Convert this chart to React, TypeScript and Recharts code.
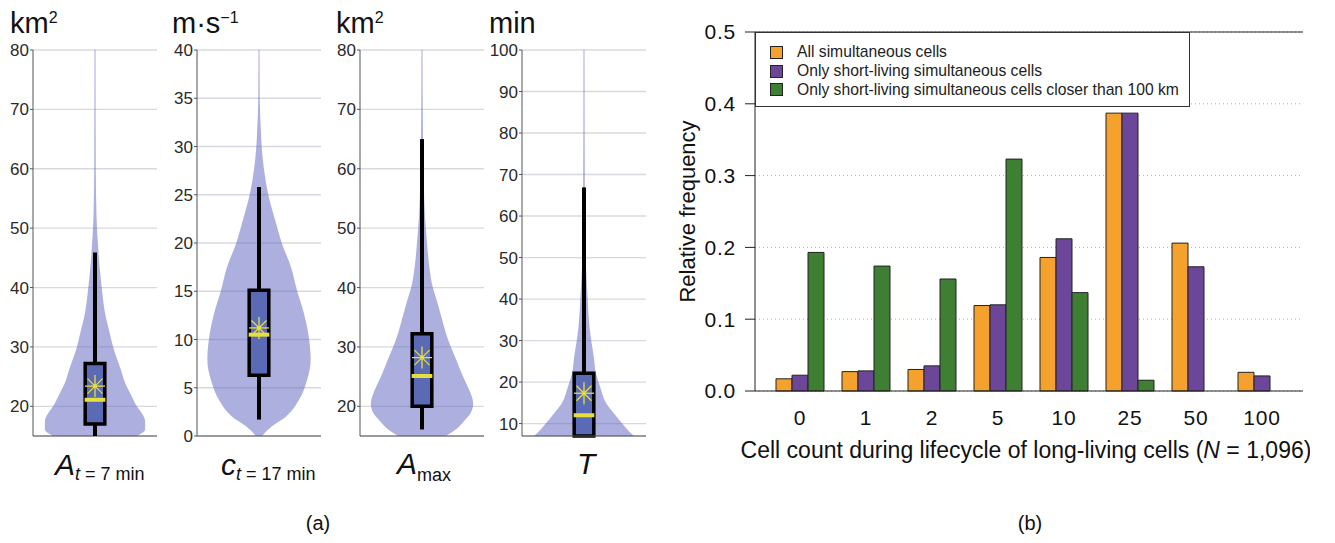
import React from 'react';
import {
  ComposedChart,
  Area,
  XAxis,
  YAxis,
  CartesianGrid,
  ReferenceLine,
  ReferenceArea,
  ReferenceDot,
  BarChart,
  Bar,
  Legend,
} from 'recharts';

// ---------- Panel (a): violin + box plots ----------
const violinAtValues = [15, 15.5, 16.1, 17.5, 18.9, 20, 21.7, 24, 26.2, 30, 32.9, 35, 40, 44.1, 48, 52, 60, 80];
const violinAtDensity = [0.81, 0.91, 0.97, 0.97, 0.9, 0.81, 0.71, 0.58, 0.5, 0.35, 0.27, 0.21, 0.13, 0.083, 0.052, 0.029, 0.015, 0.01];

const violinCtValues = [0, 1, 2, 3.7, 5.8, 7.9, 10, 12.7, 15, 17.5, 20, 22.4, 25, 27.6, 30, 32, 35, 40];
const violinCtDensity = [0.06, 0.25, 0.52, 0.77, 0.93, 1.0, 0.97, 0.87, 0.74, 0.62, 0.44, 0.31, 0.18, 0.097, 0.052, 0.033, 0.014, 0.01];

const violinAmaxValues = [15, 16, 17.5, 19, 20.5, 22, 23.4, 25.1, 27.9, 30, 32.4, 35.2, 38, 40, 43.6, 47.5, 52, 58, 65, 80];
const violinAmaxDensity = [0.46, 0.64, 0.81, 0.95, 0.99, 0.95, 0.88, 0.79, 0.66, 0.56, 0.46, 0.37, 0.28, 0.21, 0.14, 0.097, 0.058, 0.033, 0.019, 0.01];

const violinTValues = [7, 8.4, 10, 12.9, 14.9, 18.9, 22.1, 26.1, 30, 34.1, 40, 45, 50, 60, 100];
const violinTDensity = [0.97, 0.85, 0.74, 0.55, 0.43, 0.31, 0.23, 0.19, 0.14, 0.1, 0.072, 0.048, 0.031, 0.019, 0.01];

const axisMin = [15, 0, 15, 7];
const axisMax = [80, 40, 80, 100];
const axisTicks = [
  [20, 30, 40, 50, 60, 70, 80],
  [0, 5, 10, 15, 20, 25, 30, 35, 40],
  [20, 30, 40, 50, 60, 70, 80],
  [10, 20, 30, 40, 50, 60, 70, 80, 90, 100],
];
const whiskerLow = [15, 1.7, 16.1, 7];
const boxQ1 = [17, 6.3, 20, 7];
const boxMedian = [21.1, 10.5, 25.1, 12];
const boxMean = [23.4, 11.2, 28.2, 17.3];
const boxQ3 = [27.2, 15.1, 32.2, 22.1];
const whiskerHigh = [45.9, 25.8, 65, 66.9];

const violinValues = [violinAtValues, violinCtValues, violinAmaxValues, violinTValues];
const violinDensity = [violinAtDensity, violinCtDensity, violinAmaxDensity, violinTDensity];

// ---------- Panel (b): grouped bars ----------
const categories = ['0', '1', '2', '5', '10', '25', '50', '100'];
const allCells = [0.017, 0.027, 0.03, 0.119, 0.186, 0.387, 0.206, 0.026];
const shortLiving = [0.022, 0.028, 0.035, 0.12, 0.212, 0.387, 0.173, 0.021];
const shortClose = [0.193, 0.174, 0.156, 0.323, 0.137, 0.015, 0, 0];
const seriesNames = [
  'All simultaneous cells',
  'Only short-living simultaneous cells',
  'Only short-living simultaneous cells closer than 100 km',
];
const seriesKeys = ['all', 'short', 'close'];
const seriesColors = ['#F5A12D', '#6C4699', '#3F7F33'];
const yTicksB = [0, 0.1, 0.2, 0.3, 0.4, 0.5];

const barData = categories.map((c, i) => ({
  cat: c,
  all: allCells[i],
  short: shortLiving[i],
  close: shortClose[i],
}));

const FONT = '"Liberation Sans", Arial, Helvetica, sans-serif';
const NARROW = '"Liberation Sans Narrow", "Liberation Sans", Arial, sans-serif';

const AXIS_X = [33, 197, 360, 522];
const VIOLIN_FILL = '#5c62c0';
const BOX_FILL = '#5b6ab5';
const YELLOW = '#e6df3c';

const Star = (props: any) => {
  const { cx, cy } = props;
  if (cx == null || cy == null) return null;
  const rh = 10;
  const rv = 11;
  const rd = 7.5;
  return (
    <g stroke={YELLOW} strokeWidth={1.3}>
      <line x1={cx - rh} y1={cy} x2={cx + rh} y2={cy} />
      <line x1={cx} y1={cy - rv} x2={cx} y2={cy + rv} />
      <line x1={cx - rd} y1={cy - rd} x2={cx + rd} y2={cy + rd} />
      <line x1={cx - rd} y1={cy + rd} x2={cx + rd} y2={cy - rd} />
      <circle cx={cx} cy={cy} r={2} fill={YELLOW} stroke="none" />
    </g>
  );
};

function ViolinPanel({ idx }: { idx: number }) {
  const data = violinValues[idx].map((v, i) => ({
    v,
    r: [-violinDensity[idx][i], violinDensity[idx][i]],
  }));
  const lo = axisMin[idx];
  const hi = axisMax[idx];
  const bw = 0.19;
  return (
    <div style={{ position: 'absolute', left: AXIS_X[idx] - 40, top: 40 }}>
      <ComposedChart
        layout="vertical"
        width={166}
        height={412}
        data={data}
        margin={{ top: 10, right: 2, bottom: 16, left: 0 }}
      >
        <CartesianGrid horizontal vertical={false} stroke="#d8d8e0" strokeWidth={1.3} />
        <XAxis type="number" domain={[-1.2, 1.2]} hide allowDataOverflow />
        <YAxis
          type="number"
          dataKey="v"
          domain={[lo, hi]}
          ticks={axisTicks[idx]}
          interval={0}
          reversed
          allowDataOverflow
          width={40}
          tickSize={3}
          tickMargin={1}
          axisLine={{ stroke: '#555' }}
          tickLine={{ stroke: '#555' }}
          tick={{ fill: '#2a2a2a', fontSize: 17, fontFamily: NARROW }}
        />
        <ReferenceLine y={lo} stroke="#555" strokeWidth={1} />
        <Area
          dataKey="r"
          type="monotone"
          fill={VIOLIN_FILL}
          fillOpacity={0.5}
          stroke="none"
          dot={false}
          activeDot={false}
          isAnimationActive={false}
        />
        <ReferenceLine
          segment={[{ x: 0, y: whiskerLow[idx] }, { x: 0, y: boxQ1[idx] }]}
          stroke="#000"
          strokeWidth={4}
          ifOverflow="visible"
        />
        <ReferenceLine
          segment={[{ x: 0, y: boxQ3[idx] }, { x: 0, y: whiskerHigh[idx] }]}
          stroke="#000"
          strokeWidth={4}
          ifOverflow="visible"
        />
        <ReferenceArea
          x1={-bw}
          x2={bw}
          y1={boxQ1[idx]}
          y2={boxQ3[idx]}
          fill={BOX_FILL}
          fillOpacity={1}
          stroke="#000"
          strokeWidth={3.5}
          ifOverflow="visible"
        />
        <ReferenceLine
          segment={[{ x: -0.2, y: boxMedian[idx] }, { x: 0.2, y: boxMedian[idx] }]}
          stroke={YELLOW}
          strokeWidth={4}
          ifOverflow="visible"
        />
        <ReferenceDot x={0} y={boxMean[idx]} r={10} shape={Star} ifOverflow="visible" />
      </ComposedChart>
    </div>
  );
}

const LegendBox = () => (
  <div
    style={{
      width: 435,
      height: 75,
      boxSizing: 'border-box',
      border: '1.3px solid #333',
      background: '#fff',
      paddingTop: 10,
      fontFamily: FONT,
      fontSize: 15.7,
      color: '#222',
    }}
  >
    {seriesNames.map((n, i) => (
      <div key={n} style={{ display: 'flex', alignItems: 'center', height: 18.7, whiteSpace: 'nowrap' }}>
        <span
          style={{
            display: 'inline-block',
            width: 11,
            height: 11,
            marginLeft: 14,
            marginRight: 14,
            background: seriesColors[i],
            border: '1px solid #222',
            flex: 'none',
          }}
        />
        <span>{n}</span>
      </div>
    ))}
  </div>
);

const YLabel = (props: any) => {
  const vb = props.viewBox || { x: 0, y: 12, width: 115, height: 359 };
  const cx = vb.x + 47;
  const cy = vb.y + vb.height / 2;
  return (
    <text
      x={cx}
      y={cy}
      transform={`rotate(-90 ${cx} ${cy})`}
      textAnchor="middle"
      dominantBaseline="central"
      fontSize={22}
      fill="#111"
      fontFamily={FONT}
    >
      Relative frequency
    </text>
  );
};

const XLabel = (props: any) => {
  const vb = props.viewBox || { x: 115, y: 371, width: 548, height: 89 };
  const cx = vb.x + vb.width / 2 - 3;
  return (
    <text x={cx} y={vb.y + 67} textAnchor="middle" fontSize={23} fill="#111" fontFamily={FONT}>
      Cell count during lifecycle of long-living cells (<tspan fontStyle="italic">N</tspan> = 1,096)
    </text>
  );
};

function BarPanel() {
  return (
    <div style={{ position: 'absolute', left: 640, top: 20 }}>
      <BarChart
        width={670}
        height={460}
        data={barData}
        margin={{ top: 12, right: 7, bottom: 0, left: 0 }}
        barGap={0}
        barSize={16}
      >
        <CartesianGrid vertical={false} strokeDasharray="1 3" stroke="#b0b0b0" />
        <XAxis
          dataKey="cat"
          padding={{ left: 12, right: 8 }}
          height={89}
          tickLine={false}
          axisLine={{ stroke: '#222' }}
          tickMargin={13}
          tick={{ fontSize: 21, fill: '#111', fontFamily: FONT, letterSpacing: 0.8 }}
          interval={0}
          label={XLabel}
        />
        <YAxis
          domain={[0, 0.5]}
          ticks={yTicksB}
          interval={0}
          tickFormatter={(v: number) => v.toFixed(1)}
          width={115}
          tickSize={10}
          tickMargin={9}
          axisLine={{ stroke: '#222' }}
          tickLine={{ stroke: '#222' }}
          tick={{ fontSize: 21, fill: '#111', fontFamily: FONT, letterSpacing: 0.8 }}
          label={YLabel}
        />
        <YAxis
          yAxisId="right"
          orientation="right"
          domain={[0, 0.5]}
          width={0}
          tick={false}
          tickLine={false}
          axisLine={{ stroke: '#222' }}
        />
        <ReferenceLine y={0.5} stroke="#222" />
        {seriesKeys.map((k, i) => (
          <Bar
            key={k}
            dataKey={k}
            name={seriesNames[i]}
            fill={seriesColors[i]}
            stroke="#222"
            strokeWidth={1}
            isAnimationActive={false}
          />
        ))}
        <Legend
          layout="vertical"
          align="center"
          verticalAlign="middle"
          content={LegendBox}
          wrapperStyle={{ left: 115, top: 12, width: 435, height: 75 }}
        />
      </BarChart>
    </div>
  );
}

const unitTitles = [
  { x: 10, main: 'km', sup: '2' },
  { x: 172, main: 'm·s', sup: '−1' },
  { x: 336, main: 'km', sup: '2' },
  { x: 489, main: 'min', sup: '' },
];

export default function App() {
  return (
    <div
      style={{
        position: 'absolute',
        left: 0,
        top: 0,
        width: 1335,
        height: 543,
        background: '#fff',
        fontFamily: FONT,
        overflow: 'hidden',
      }}
    >
      {[0, 1, 2, 3].map((i) => (
        <ViolinPanel key={i} idx={i} />
      ))}
      <BarPanel />
      <svg
        width={1335}
        height={543}
        style={{ position: 'absolute', left: 0, top: 0, pointerEvents: 'none' }}
        fontFamily={FONT}
      >
        {unitTitles.map((u) => (
          <text key={u.x} x={u.x} y={33} fontSize={29} fill="#111">
            {u.main}
            {u.sup ? (
              <tspan fontSize={16} dy={-10}>
                {u.sup}
              </tspan>
            ) : null}
          </text>
        ))}
        <text x={55} y={475} fill="#111">
          <tspan fontSize={30} fontStyle="italic">A</tspan>
          <tspan fontSize={18} fontStyle="italic" dy={5}>t</tspan>
          <tspan fontSize={18}> = 7 min</tspan>
        </text>
        <text x={221} y={475} fill="#111">
          <tspan fontSize={30} fontStyle="italic">c</tspan>
          <tspan fontSize={18} fontStyle="italic" dy={5}>t</tspan>
          <tspan fontSize={18}> = 17 min</tspan>
        </text>
        <text x={397} y={474} fill="#111">
          <tspan fontSize={30} fontStyle="italic">A</tspan>
          <tspan fontSize={18} dy={7}>max</tspan>
        </text>
        <text x={577} y={474} fill="#111" fontSize={30} fontStyle="italic">
          T
        </text>
        <text x={318} y={530} textAnchor="middle" fontSize={20} fill="#111">
          (a)
        </text>
        <text x={1030} y={530} textAnchor="middle" fontSize={20} fill="#111">
          (b)
        </text>
      </svg>
    </div>
  );
}
